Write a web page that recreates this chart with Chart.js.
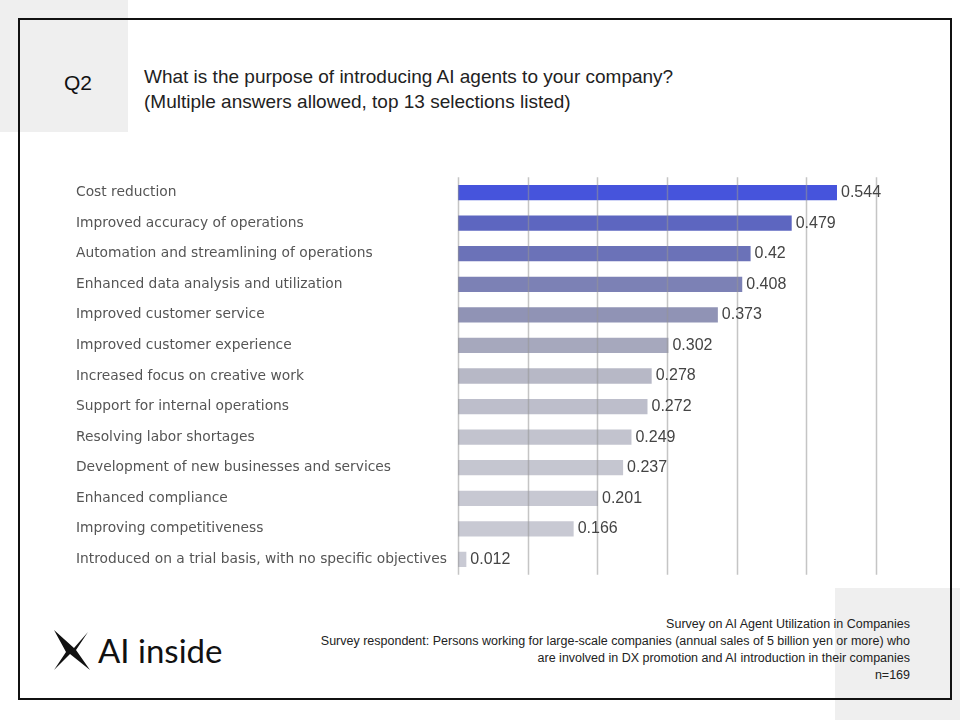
<!DOCTYPE html>
<html>
<head>
<meta charset="utf-8">
<script src="https://cdn.jsdelivr.net/npm/chart.js@4.4.1/dist/chart.umd.min.js"></script>
<style>
  body { margin: 0; width: 960px; height: 720px; position: relative; background: #fff; font-family: "Liberation Sans", Arial, sans-serif; overflow: hidden; }
  .grey { position: absolute; background: #efefef; }
  #frame { position: absolute; left: 18px; top: 18px; width: 930px; height: 678px; border: 2px solid #111; }
  #q { position: absolute; left: 64px; top: 71px; font-size: 21px; color: #111; }
  #title { position: absolute; left: 144px; top: 64px; font-size: 19px; line-height: 25px; color: #222; }
  #wrap { position: absolute; left: 76px; top: 163px; width: 834px; height: 426px; }
  #foot { position: absolute; right: 50px; top: 616px; text-align: right; font-size: 12.5px; line-height: 17px; color: #222; }
  #logo { position: absolute; left: 52px; top: 628px; }
  #logoText { position: absolute; left: 98px; top: 630px; font-family: "Lato", sans-serif; font-size: 33px; color: #111; }
</style>
</head>
<body>
<div class="grey" style="left:0;top:0;width:128px;height:132px"></div>
<div class="grey" style="left:835px;top:588px;width:125px;height:132px"></div>
<div id="frame"></div>
<div id="q">Q2</div>
<div id="title">What is the purpose of introducing AI agents to your company?<br>(Multiple answers allowed, top 13 selections listed)</div>
<div id="wrap"><canvas id="chart"></canvas></div>
<svg id="logo" width="40" height="44" viewBox="0 0 40 44">
  <path d="M2 2 L22 20 L36 4 L24 22 L38 42 L18 26 L2 42 L14 24 Z" fill="#111"/>
</svg>
<div id="logoText">AI inside</div>
<div id="foot">Survey on AI Agent Utilization in Companies<br>Survey respondent: Persons working for large-scale companies (annual sales of 5 billion yen or more) who<br>are involved in DX promotion and AI introduction in their companies<br>n=169</div>
<script>
const categories = [
  "Cost reduction",
  "Improved accuracy of operations",
  "Automation and streamlining of operations",
  "Enhanced data analysis and utilization",
  "Improved customer service",
  "Improved customer experience",
  "Increased focus on creative work",
  "Support for internal operations",
  "Resolving labor shortages",
  "Development of new businesses and services",
  "Enhanced compliance",
  "Improving competitiveness",
  "Introduced on a trial basis, with no specific objectives"
];
const shares = [0.544, 0.479, 0.42, 0.408, 0.373, 0.302, 0.278, 0.272, 0.249, 0.237, 0.201, 0.166, 0.012];
const barColors = ["#4654dc", "#5d66c0", "#6b72b8", "#7c81b5", "#9093b5", "#a6a8bd", "#b7b8c6", "#bdbecb", "#c2c3ce", "#c5c6d0", "#c7c8d2", "#c8c9d3", "#c9cad4"];
const xTicks = [0, 0.1, 0.2, 0.3, 0.4, 0.5, 0.6];

// grid lines drawn over the bars, plus value labels
const overlay = {
  id: "overlay",
  afterDatasetsDraw(chart) {
    const ctx = chart.ctx;
    const x = chart.scales.x;
    const area = chart.chartArea;
    ctx.save();
    ctx.strokeStyle = "rgba(150,150,150,0.55)";
    ctx.lineWidth = 1.5;
    xTicks.forEach((t) => {
      const px = Math.round(x.getPixelForValue(t)) + 0.5;
      ctx.beginPath();
      ctx.moveTo(px, area.top);
      ctx.lineTo(px, area.bottom);
      ctx.stroke();
    });
    ctx.fillStyle = "#444";
    ctx.font = "16px 'Liberation Sans', Arial, sans-serif";
    ctx.textBaseline = "middle";
    chart.getDatasetMeta(0).data.forEach((bar, i) => {
      ctx.fillText(String(shares[i]), bar.x + 4, bar.y);
    });
    ctx.restore();
  }
};

new Chart(document.getElementById("chart"), {
  type: "bar",
  data: {
    labels: categories,
    datasets: [{ data: shares, backgroundColor: barColors, barPercentage: 0.5, categoryPercentage: 1 }]
  },
  options: {
    indexAxis: "y",
    responsive: true,
    maintainAspectRatio: false,
    animation: false,
    layout: { padding: { top: 7, bottom: 5, right: 34, left: 0 } },
    plugins: { legend: { display: false }, tooltip: { enabled: false } },
    scales: {
      x: {
        display: false,
        min: 0, max: 0.6
      },
      y: {
        afterFit(scale) { scale.width = 382; },
        grid: { display: false },
        border: { display: false },
        ticks: { crossAlign: "far", color: "#555", padding: 6, font: { size: 13.8, family: "'DejaVu Sans', sans-serif" } }
      }
    }
  },
  plugins: [overlay]
});
</script>
</body>
</html>
